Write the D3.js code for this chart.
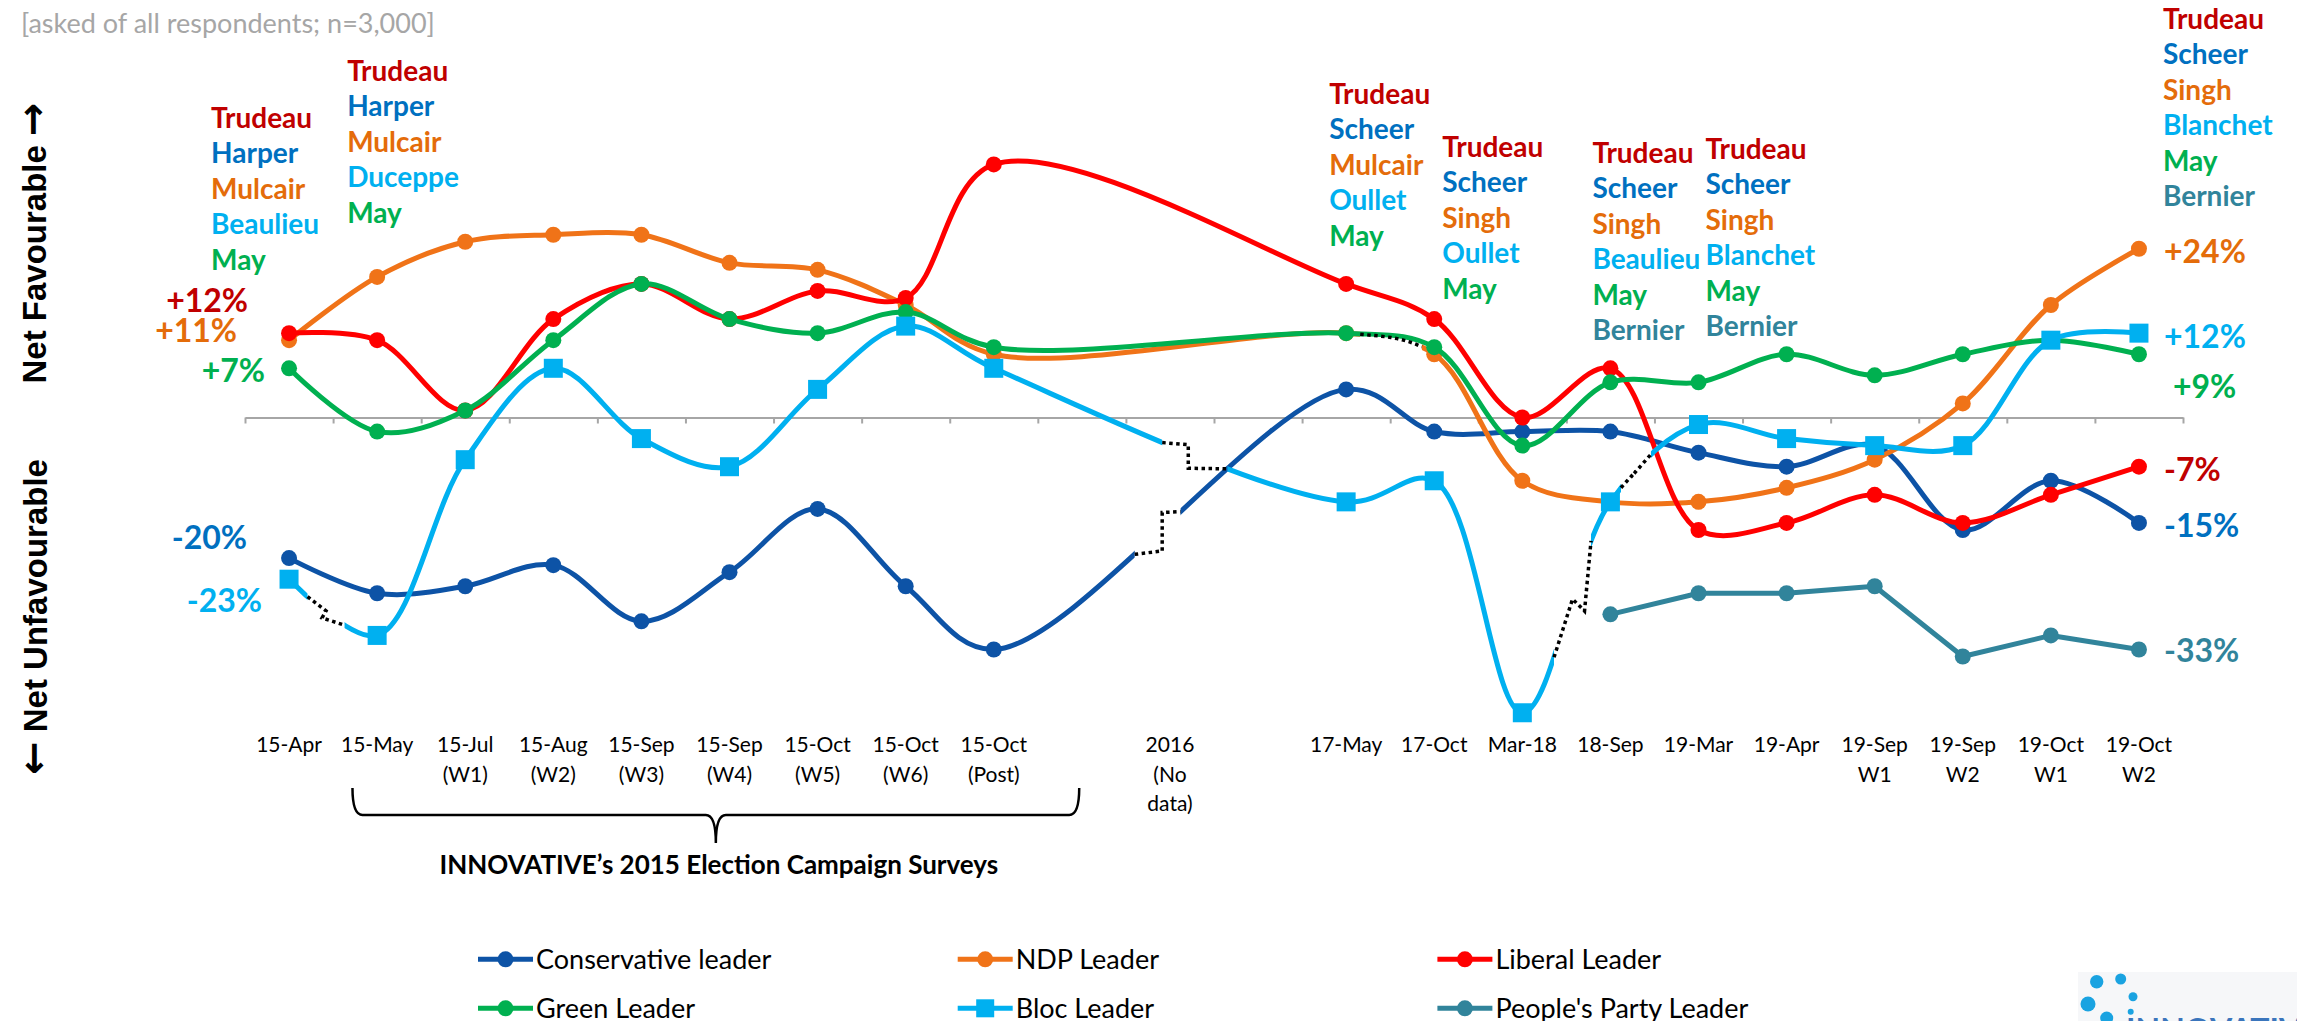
<!DOCTYPE html>
<html><head><meta charset="utf-8">
<script src="https://cdn.jsdelivr.net/npm/d3@7"></script>
<style>
html,body{margin:0;padding:0;background:#fff;}
svg{display:block;}
</style></head>
<body>
<svg id="chart" width="2297" height="1021"></svg>
<script>
// ---------------- DATA ----------------
const tickLabels = ["15-Apr","15-May","15-Jul\n(W1)","15-Aug\n(W2)","15-Sep\n(W3)","15-Sep\n(W4)","15-Oct\n(W5)","15-Oct\n(W6)","15-Oct\n(Post)","","2016\n(No\ndata)","","17-May","17-Oct","Mar-18","18-Sep","19-Mar","19-Apr","19-Sep\nW1","19-Sep\nW2","19-Oct\nW1","19-Oct\nW2"];
const conservative = [-20,-25,-24,-21,-29,-22,-13,-24,-33,null,null,null,4,-2,-2,-2,-5,-7,-4,-16,-9,-15];
const ndp          = [11,20,25,26,26,22,21,16,9,null,null,null,12,9,-9,-12,-12,-10,-6,2,16,24];
const liberal      = [12,11,1,14,19,14,18,17,36,null,null,null,19,14,0,7,-16,-15,-11,-15,-11,-7];
const green        = [7,-2,1,11,19,14,12,15,10,null,null,null,12,10,-4,5,5,9,6,9,11,9];
const bloc         = [-23,-31,-6,7,-3,-7,4,13,7,null,null,null,-12,-9,-42,-12,-1,-3,-4,-4,11,12];
const peoplesParty = [null,null,null,null,null,null,null,null,null,null,null,null,null,null,null,-28,-25,-25,-24,-34,-31,-33];
const seriesNames  = ["Conservative leader","NDP Leader","Liberal Leader","Green Leader","Bloc Leader","People's Party Leader"];

// leader names shown above survey waves (order: Liberal, Conservative, NDP, Bloc, Green, PPC)
const leaderGroups = [
  {at:0,  names:["Trudeau","Harper","Mulcair","Beaulieu","May"]},
  {at:1,  names:["Trudeau","Harper","Mulcair","Duceppe","May"]},
  {at:12, names:["Trudeau","Scheer","Mulcair","Oullet","May"]},
  {at:13, names:["Trudeau","Scheer","Singh","Oullet","May"]},
  {at:15, names:["Trudeau","Scheer","Singh","Beaulieu","May","Bernier"]},
  {at:16, names:["Trudeau","Scheer","Singh","Blanchet","May","Bernier"]},
  {at:21, names:["Trudeau","Scheer","Singh","Blanchet","May","Bernier"]}
];

// ---------------- STYLE / LAYOUT ----------------
const W = 2297, H = 1021;
const FONT = "Lato, 'Open Sans', sans-serif";
const svg = d3.select("#chart");
const n = tickLabels.length;
const x = d3.scaleBand().domain(d3.range(n)).range([245, 2183]).padding(0);
const step = x.step();
const xc = i => x(i) + step / 2;
const y = d3.scaleLinear().domain([-40, 40]).range([698.7, 136.3]);

const series = [
  {key:"con",   values:conservative, color:"#0D53A6", marker:"circle", curve:d3.curveCatmullRom.alpha(0.5)},
  {key:"ndp",   values:ndp,          color:"#F07318", marker:"circle", curve:d3.curveCatmullRom.alpha(0.5)},
  {key:"lib",   values:liberal,      color:"#FF0000", marker:"circle", curve:d3.curveCatmullRom.alpha(0.5)},
  {key:"green", values:green,        color:"#00B050", marker:"circle", curve:d3.curveCatmullRom.alpha(0.5)},
  {key:"bloc",  values:bloc,         color:"#00B0F0", marker:"square", curve:d3.curveCatmullRom.alpha(0.5)},
  {key:"ppc",   values:peoplesParty, color:"#31849B", marker:"circle", curve:d3.curveLinear}
];
series.forEach((s, i) => s.name = seriesNames[i]);
const byKey = Object.fromEntries(series.map(s => [s.key, s]));

const nameColors = ["#C00000","#0070C0","#E46C0A","#00B0F0","#00B050","#31849B"];
const groupLayout = [
  {dx:-78, top:118}, {dx:-30, top:71}, {dx:-17, top:94}, {dx:8, top:147},
  {dx:-18, top:153}, {dx:7, top:149}, {dx:24, top:19}
];

// leader-change break markers (fraction of the way between two waves)
const breakMarkers = [
  {key:"bloc", from:0,  to:1,  t0:0.21, t1:0.63, kind:"kink", jx:-4, jy:7},
  {key:"con",  from:8,  to:12, t0:0.40, t1:0.53, kind:"step", at:0.6},
  {key:"bloc", from:8,  to:12, t0:0.478,t1:0.663,kind:"step", at:0.4},
  {key:"ndp",  from:12, to:13, t0:0.16, t1:0.86, kind:"follow"},
  {key:"bloc", from:14, to:15, t0:0.36, t1:0.78, kind:"kink", jx:12, jy:12},
  {key:"bloc", from:15, to:16, t0:0.12, t1:0.46, kind:"kink", jx:-5, jy:6}
];

const valueLabels = [
  {key:"lib",   at:0,  anchor:"end",   dx:-41, dy:-33, color:"#C00000"},
  {key:"ndp",   at:0,  anchor:"end",   dx:-52, dy:-10, color:"#E46C0A"},
  {key:"green", at:0,  anchor:"end",   dx:-24, dy:2,   color:"#00B050"},
  {key:"con",   at:0,  anchor:"end",   dx:-42, dy:-21, color:"#0070C0"},
  {key:"bloc",  at:0,  anchor:"end",   dx:-27, dy:21,  color:"#00B0F0"},
  {key:"ndp",   at:21, anchor:"start", dx:25,  dy:3,   color:"#E46C0A"},
  {key:"bloc",  at:21, anchor:"start", dx:25,  dy:3,   color:"#00B0F0"},
  {key:"green", at:21, anchor:"start", dx:34,  dy:32,  color:"#00B050"},
  {key:"lib",   at:21, anchor:"start", dx:25,  dy:3,   color:"#C00000"},
  {key:"con",   at:21, anchor:"start", dx:25,  dy:3,   color:"#0070C0"},
  {key:"ppc",   at:21, anchor:"start", dx:25,  dy:1,   color:"#31849B"}
];

// ---------------- TEXT HEADERS ----------------
svg.append("text").attr("x", 21).attr("y", 33)
  .attr("font-family", FONT).attr("font-size", 27).attr("fill", "#A6A6A6")
  .text("[asked of all respondents; n=3,000]");

const favT = svg.append("text").attr("transform", "translate(46,243) rotate(-90)")
  .attr("text-anchor", "middle").attr("font-family", "'Liberation Sans', Arial, sans-serif")
  .attr("font-weight", "bold").attr("font-size", 33);
favT.append("tspan").text("Net Favourable ");
favT.append("tspan").attr("font-family", "'DejaVu Sans', sans-serif").attr("font-size", 40).text("\u2192");

const unfT = svg.append("text").attr("transform", "translate(47,617) rotate(-90)")
  .attr("text-anchor", "middle").attr("font-family", "'Liberation Sans', Arial, sans-serif")
  .attr("font-weight", "bold").attr("font-size", 33);
unfT.append("tspan").attr("font-family", "'DejaVu Sans', sans-serif").attr("font-size", 40).text("\u2190");
unfT.append("tspan").text(" Net Unfavourable");

// ---------------- AXIS ----------------
const xEdges = d3.scaleLinear().domain([0, n]).range(x.range());
const axisG = svg.append("g").attr("transform", `translate(0,${y(0)})`)
  .call(d3.axisBottom(xEdges).tickValues(d3.range(n + 1)).tickSize(6).tickSizeOuter(0).tickFormat(""));
axisG.selectAll("path,line").attr("stroke", "#A6A6A6").attr("stroke-width", 2);

const labelAxis = svg.append("g").attr("transform", "translate(0,752)")
  .call(d3.axisBottom(x).tickSize(0).tickPadding(0).tickFormat(i => tickLabels[i]));
labelAxis.select(".domain").remove();
labelAxis.selectAll(".tick text").each(function(i) {
  const t = d3.select(this);
  t.text(null).attr("y", 0).attr("dy", null)
    .attr("font-family", FONT).attr("font-size", 21).attr("fill", "#000");
  tickLabels[i].split("\n").forEach((line, k) => {
    t.append("tspan").attr("x", 0).attr("y", k * 29.5).text(line);
  });
});

// brace over the 2015 campaign waves
const bx0 = xc(1) - 0.28 * step, bx1 = xc(8) + 0.97 * step, bxm = (bx0 + bx1) / 2;
const by0 = 788, by1 = 815, by2 = 843, r = 10;
svg.append("path")
  .attr("d", `M${bx0},${by0} Q${bx0},${by1} ${bx0 + r},${by1} L${bxm - r},${by1} Q${bxm},${by1} ${bxm},${by2} Q${bxm},${by1} ${bxm + r},${by1} L${bx1 - r},${by1} Q${bx1},${by1} ${bx1},${by0}`)
  .attr("fill", "none").attr("stroke", "#000").attr("stroke-width", 2.5);
svg.append("text").attr("x", bxm + 3).attr("y", 874).attr("text-anchor", "middle")
  .attr("font-family", FONT).attr("font-weight", "bold").attr("font-size", 26).attr("fill", "#000")
  .text("INNOVATIVE\u2019s 2015 Election Campaign Surveys");

// ---------------- LINES ----------------
const defs = svg.append("defs");
const linesG = svg.append("g");

function pointAtX(node, xt) {
  const L = node.getTotalLength();
  let lo = 0, hi = L;
  for (let k = 0; k < 40; k++) {
    const mid = (lo + hi) / 2;
    if (node.getPointAtLength(mid).x < xt) lo = mid; else hi = mid;
  }
  return node.getPointAtLength((lo + hi) / 2);
}

series.forEach(s => {
  const pts = s.values.map((v, i) => ({i, v})).filter(d => d.v !== null);
  s.pts = pts;
  const line = d3.line().x(d => xc(d.i)).y(d => y(d.v)).curve(s.curve);
  const dStr = line(pts);
  const helper = defs.append("path").attr("d", dStr);
  s.helper = helper.node();
  const gaps = breakMarkers.filter(b => b.key === s.key).map(b => {
    const xa = xc(b.from) + b.t0 * (xc(b.to) - xc(b.from));
    const xb = xc(b.from) + b.t1 * (xc(b.to) - xc(b.from));
    b.xa = xa; b.xb = xb;
    return [xa, xb];
  }).sort((a, b) => a[0] - b[0]);
  const clipId = "clip-" + s.key;
  const cp = defs.append("clipPath").attr("id", clipId);
  let start = -100;
  gaps.forEach(g => { cp.append("rect").attr("x", start).attr("y", -100).attr("width", g[0] - start).attr("height", H + 200); start = g[1]; });
  cp.append("rect").attr("x", start).attr("y", -100).attr("width", W + 200 - start).attr("height", H + 200);

  const g = linesG.append("g");
  g.append("path").attr("d", dStr).attr("fill", "none").attr("stroke", s.color)
    .attr("stroke-width", 5).attr("stroke-linejoin", "round").attr("stroke-linecap", "butt")
    .attr("clip-path", `url(#${clipId})`);
  if (s.marker === "square") {
    g.selectAll("rect.m").data(pts).join("rect").attr("class", "m")
      .attr("x", d => xc(d.i) - 9.5).attr("y", d => y(d.v) - 9.5)
      .attr("width", 19).attr("height", 19).attr("fill", s.color);
  } else {
    g.selectAll("circle.m").data(pts).join("circle").attr("class", "m")
      .attr("cx", d => xc(d.i)).attr("cy", d => y(d.v)).attr("r", 8).attr("fill", s.color);
  }
});

// dotted leader-change connectors
const dotsG = svg.append("g");
breakMarkers.forEach(b => {
  const node = byKey[b.key].helper;
  const A = pointAtX(node, b.xa), B = pointAtX(node, b.xb);
  let ptsD;
  if (b.kind === "step") {
    const xm = A.x + b.at * (B.x - A.x), dy = B.y - A.y;
    ptsD = [[A.x, A.y], [xm, A.y + 0.08 * dy], [xm, B.y - 0.02 * dy], [B.x, B.y]];
  } else if (b.kind === "kink") {
    const M = [(A.x + B.x) / 2, (A.y + B.y) / 2];
    ptsD = [[A.x, A.y], M, [M[0] + b.jx, M[1] + b.jy], [B.x, B.y]];
  } else {
    ptsD = d3.range(0, 1.0001, 0.1).map(t => { const p = pointAtX(node, b.xa + t * (b.xb - b.xa)); return [p.x, p.y]; });
  }
  dotsG.append("path").attr("d", d3.line()(ptsD)).attr("fill", "none")
    .attr("stroke", "#000").attr("stroke-width", 3.5).attr("stroke-dasharray", "3.5,3.5");
});

// ---------------- ANNOTATIONS ----------------
const annG = svg.append("g").attr("font-family", FONT).attr("font-weight", "bold");
leaderGroups.forEach((grp, gi) => {
  const lay = groupLayout[gi];
  grp.names.forEach((nm, k) => {
    annG.append("text").attr("x", xc(grp.at) + lay.dx).attr("y", lay.top + k * 35.4 + 10)
      .attr("font-size", 28).attr("fill", nameColors[k]).text(nm);
  });
});

const fmt = v => (v > 0 ? "+" : "") + v + "%";
valueLabels.forEach(l => {
  const v = byKey[l.key].values[l.at];
  annG.append("text").attr("x", xc(l.at) + l.dx).attr("y", y(v) + l.dy + 11.5)
    .attr("text-anchor", l.anchor).attr("font-size", 32).attr("fill", l.color).text(fmt(v));
});

// ---------------- LEGEND ----------------
const legG = svg.append("g");
series.forEach((s, i) => {
  const col = i % 3, row = Math.floor(i / 3);
  const lx = 478 + col * 479.7, ly = 959.3 + row * 49;
  const g = legG.append("g").attr("transform", `translate(${lx},${ly})`);
  g.append("line").attr("x1", 0).attr("x2", 55).attr("y1", 0).attr("y2", 0)
    .attr("stroke", s.color).attr("stroke-width", 5);
  if (s.marker === "square") g.append("rect").attr("x", 27.5 - 9).attr("y", -9).attr("width", 18).attr("height", 18).attr("fill", s.color);
  else g.append("circle").attr("cx", 27.5).attr("cy", 0).attr("r", 8).attr("fill", s.color);
  g.append("text").attr("x", 58).attr("y", 9.5).attr("font-family", FONT).attr("font-size", 27)
    .attr("fill", "#000").text(s.name);
});

// ---------------- LOGO (partial, bottom right) ----------------
const logo = svg.append("g");
logo.append("rect").attr("x", 2078).attr("y", 972).attr("width", 219).attr("height", 49).attr("fill", "#F6F7F9");
[[2096.7,981.7,6.7],[2120.7,979,5.5],[2133,996.7,4.5],[2088,1004,7.5],[2130.7,1011.7,3],[2106.7,1018,6.5]]
  .forEach(c => logo.append("circle").attr("cx", c[0]).attr("cy", c[1]).attr("r", c[2]).attr("fill", "#1AA3E1"));
logo.append("text").attr("x", 2126).attr("y", 1042).attr("font-family", FONT).attr("font-weight", "bold")
  .attr("font-size", 32).attr("fill", "#3A75BC").text("INNOVATIVE");
</script>
</body></html>
